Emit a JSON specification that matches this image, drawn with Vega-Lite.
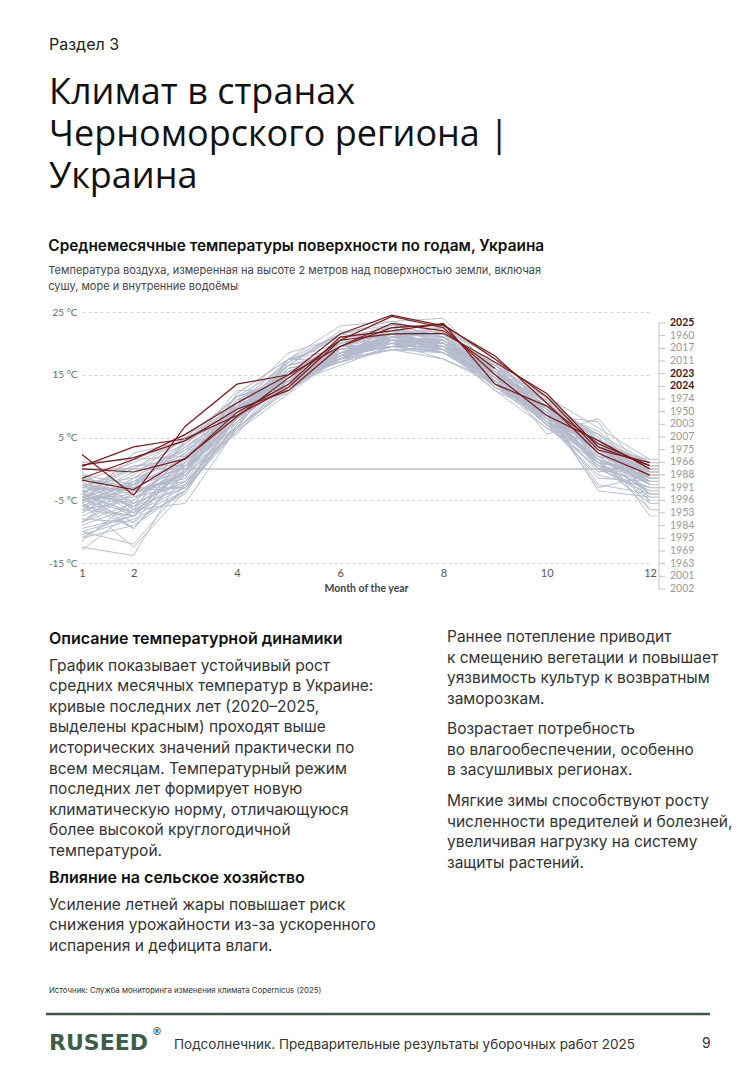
{
  "$schema": "https://vega.github.io/schema/vega-lite/v6.json",
  "background": "white",
  "padding": {"left": 44, "top": 37, "right": 0, "bottom": 0},
  "spacing": 0,
  "config": {"view": {"stroke": null}},
  "datasets": {
    "temps": [
      {"year":1950,"1":-8.5,"2":-3.2,"3":-2.0,"4":9.5,"5":15.0,"6":18.5,"7":20.0,"8":20.5,"9":15.0,"10":8.0,"11":3.5,"12":-2.0},
      {"year":1951,"1":-5.0,"2":-4.0,"3":-0.5,"4":8.0,"5":14.0,"6":19.0,"7":21.0,"8":21.5,"9":16.5,"10":8.5,"11":3.0,"12":-1.0},
      {"year":1952,"1":-3.5,"2":-6.0,"3":-3.0,"4":9.8,"5":13.0,"6":18.5,"7":21.5,"8":21.0,"9":16.8,"10":10.5,"11":1.5,"12":-1.5},
      {"year":1953,"1":-4.5,"2":-9.5,"3":-0.5,"4":8.5,"5":15.5,"6":18.0,"7":21.5,"8":19.0,"9":14.0,"10":8.0,"11":1.0,"12":-4.5},
      {"year":1954,"1":-12.5,"2":-13.8,"3":0.0,"4":7.5,"5":14.0,"6":19.5,"7":22.5,"8":20.5,"9":15.5,"10":10.0,"11":0.5,"12":-1.0},
      {"year":1955,"1":-3.0,"2":-3.5,"3":-1.0,"4":6.0,"5":13.0,"6":18.0,"7":20.5,"8":20.0,"9":15.0,"10":8.5,"11":4.5,"12":0.5},
      {"year":1956,"1":-5.5,"2":-12.5,"3":-3.5,"4":7.0,"5":15.5,"6":17.5,"7":19.0,"8":19.0,"9":14.0,"10":7.0,"11":0.0,"12":-4.0},
      {"year":1957,"1":-6.0,"2":-2.5,"3":-0.5,"4":9.0,"5":13.0,"6":20.0,"7":22.0,"8":19.0,"9":15.0,"10":11.0,"11":5.0,"12":-1.0},
      {"year":1958,"1":-5.0,"2":-3.5,"3":-3.0,"4":6.0,"5":15.5,"6":17.5,"7":20.0,"8":20.0,"9":15.0,"10":9.5,"11":2.5,"12":-1.5},
      {"year":1959,"1":-7.0,"2":-2.0,"3":3.0,"4":8.0,"5":13.5,"6":17.5,"7":21.5,"8":18.5,"9":13.5,"10":8.5,"11":0.5,"12":-3.0},
      {"year":1960,"1":-6.5,"2":-5.0,"3":0.5,"4":9.5,"5":15.5,"6":19.5,"7":20.0,"8":19.0,"9":14.5,"10":11.5,"11":6.5,"12":1.5},
      {"year":1961,"1":-4.5,"2":-2.0,"3":2.5,"4":10.0,"5":12.5,"6":19.0,"7":20.5,"8":20.0,"9":15.5,"10":9.5,"11":3.5,"12":-1.0},
      {"year":1962,"1":-2.5,"2":-4.0,"3":-1.0,"4":10.5,"5":14.0,"6":17.0,"7":19.0,"8":19.5,"9":14.5,"10":10.0,"11":5.5,"12":-1.5},
      {"year":1963,"1":-10.5,"2":-8.0,"3":-4.0,"4":8.5,"5":16.0,"6":18.0,"7":22.5,"8":23.0,"9":16.0,"10":10.0,"11":5.0,"12":-6.5},
      {"year":1964,"1":-11.0,"2":-6.5,"3":-2.5,"4":7.0,"5":15.0,"6":20.5,"7":20.0,"8":19.0,"9":14.5,"10":8.5,"11":4.0,"12":-1.5},
      {"year":1965,"1":-4.0,"2":-5.5,"3":-2.0,"4":6.5,"5":13.5,"6":18.0,"7":19.5,"8":19.5,"9":16.0,"10":7.5,"11":0.0,"12":-3.5},
      {"year":1966,"1":-8.5,"2":-2.0,"3":2.5,"4":10.0,"5":14.0,"6":18.0,"7":21.5,"8":20.0,"9":15.5,"10":10.0,"11":2.0,"12":0.0},
      {"year":1967,"1":-11.5,"2":-5.0,"3":2.0,"4":9.0,"5":15.0,"6":17.0,"7":20.5,"8":20.5,"9":15.5,"10":11.5,"11":2.5,"12":-2.0},
      {"year":1968,"1":-6.0,"2":-4.5,"3":-0.5,"4":11.0,"5":12.5,"6":18.5,"7":20.5,"8":19.5,"9":13.0,"10":8.5,"11":3.5,"12":-2.5},
      {"year":1969,"1":-11.0,"2":-9.0,"3":-3.5,"4":7.5,"5":15.5,"6":18.0,"7":19.5,"8":18.5,"9":14.0,"10":8.5,"11":7.5,"12":-5.5},
      {"year":1970,"1":-7.5,"2":-4.0,"3":1.0,"4":9.0,"5":12.5,"6":19.0,"7":20.5,"8":20.5,"9":14.5,"10":7.5,"11":4.0,"12":-1.5},
      {"year":1971,"1":-3.5,"2":-3.0,"3":-3.0,"4":8.5,"5":16.5,"6":18.5,"7":20.5,"8":20.0,"9":13.5,"10":8.0,"11":3.5,"12":0.0},
      {"year":1972,"1":-9.5,"2":-7.5,"3":2.0,"4":11.0,"5":14.5,"6":19.5,"7":23.0,"8":21.0,"9":14.0,"10":8.5,"11":4.5,"12":-1.0},
      {"year":1973,"1":-6.0,"2":-1.5,"3":1.5,"4":8.5,"5":13.5,"6":18.5,"7":20.0,"8":18.5,"9":14.0,"10":7.0,"11":-1.0,"12":-3.0},
      {"year":1974,"1":-4.0,"2":0.5,"3":1.5,"4":6.5,"5":12.5,"6":18.0,"7":19.5,"8":19.5,"9":16.0,"10":11.5,"11":3.5,"12":1.0},
      {"year":1975,"1":-1.5,"2":-3.0,"3":4.0,"4":10.5,"5":17.0,"6":21.0,"7":21.5,"8":19.5,"9":16.5,"10":9.0,"11":1.0,"12":0.0},
      {"year":1976,"1":-8.0,"2":-8.5,"3":-3.5,"4":9.5,"5":13.0,"6":17.5,"7":19.0,"8":17.5,"9":13.5,"10":6.5,"11":1.0,"12":-3.5},
      {"year":1977,"1":-7.0,"2":-2.5,"3":3.5,"4":9.0,"5":15.0,"6":18.5,"7":20.0,"8":19.5,"9":13.0,"10":7.5,"11":3.0,"12":-4.0},
      {"year":1978,"1":-6.5,"2":-7.5,"3":0.0,"4":7.5,"5":14.0,"6":17.5,"7":19.0,"8":18.5,"9":13.5,"10":9.5,"11":-3.5,"12":-4.5},
      {"year":1979,"1":-9.0,"2":-6.0,"3":1.5,"4":6.5,"5":17.0,"6":21.5,"7":20.5,"8":19.5,"9":15.5,"10":9.5,"11":6.0,"12":-0.5},
      {"year":1980,"1":-8.5,"2":-5.5,"3":-2.0,"4":6.0,"5":12.0,"6":18.0,"7":20.5,"8":18.5,"9":14.5,"10":9.5,"11":2.5,"12":-2.5},
      {"year":1981,"1":-4.5,"2":-5.0,"3":2.0,"4":9.0,"5":13.0,"6":19.5,"7":21.0,"8":20.0,"9":15.5,"10":10.0,"11":3.5,"12":-1.0},
      {"year":1982,"1":-5.0,"2":-7.0,"3":0.5,"4":6.5,"5":13.5,"6":16.5,"7":19.5,"8":19.5,"9":15.5,"10":8.5,"11":1.0,"12":-0.5},
      {"year":1983,"1":-1.0,"2":-5.5,"3":2.5,"4":11.5,"5":16.5,"6":18.0,"7":20.5,"8":19.0,"9":14.0,"10":9.0,"11":2.5,"12":-1.0},
      {"year":1984,"1":-4.0,"2":-7.0,"3":0.5,"4":10.0,"5":17.5,"6":17.0,"7":19.5,"8":18.5,"9":15.0,"10":11.0,"11":1.0,"12":-5.0},
      {"year":1985,"1":-10.0,"2":-12.0,"3":-2.5,"4":8.5,"5":15.0,"6":17.0,"7":20.5,"8":19.5,"9":13.5,"10":8.5,"11":1.5,"12":-2.0},
      {"year":1986,"1":-5.5,"2":-9.5,"3":0.0,"4":11.0,"5":14.5,"6":18.5,"7":19.5,"8":20.5,"9":15.0,"10":7.5,"11":2.0,"12":-4.0},
      {"year":1987,"1":-13.0,"2":-6.5,"3":-5.5,"4":6.5,"5":13.0,"6":19.5,"7":20.0,"8":17.5,"9":14.0,"10":7.5,"11":1.5,"12":-2.5},
      {"year":1988,"1":-4.5,"2":-4.5,"3":-2.5,"4":8.0,"5":15.0,"6":19.5,"7":22.5,"8":20.0,"9":15.0,"10":7.5,"11":-1.5,"12":-2.0},
      {"year":1989,"1":-3.0,"2":0.0,"3":5.0,"4":11.5,"5":14.0,"6":18.5,"7":20.5,"8":20.0,"9":14.5,"10":9.0,"11":1.5,"12":-1.5},
      {"year":1990,"1":-2.0,"2":1.0,"3":4.5,"4":8.5,"5":13.5,"6":18.5,"7":19.5,"8":19.5,"9":13.5,"10":8.0,"11":4.0,"12":0.5},
      {"year":1991,"1":-4.5,"2":-8.5,"3":1.0,"4":9.5,"5":13.0,"6":18.0,"7":21.0,"8":19.0,"9":14.5,"10":9.5,"11":3.5,"12":-2.0},
      {"year":1992,"1":-3.5,"2":-3.0,"3":0.5,"4":8.0,"5":13.5,"6":19.0,"7":20.0,"8":21.0,"9":14.0,"10":7.0,"11":1.5,"12":-2.0},
      {"year":1993,"1":-2.0,"2":-7.0,"3":-3.0,"4":7.0,"5":16.0,"6":18.0,"7":19.5,"8":19.5,"9":13.0,"10":8.5,"11":-3.0,"12":-1.0},
      {"year":1994,"1":-1.5,"2":-6.5,"3":1.0,"4":10.5,"5":14.5,"6":17.5,"7":20.5,"8":20.0,"9":17.5,"10":9.5,"11":0.5,"12":-3.0},
      {"year":1995,"1":1.0,"2":1.5,"3":2.0,"4":9.5,"5":15.5,"6":19.0,"7":20.5,"8":19.5,"9":14.5,"10":9.0,"11":0.5,"12":-5.5},
      {"year":1996,"1":-6.0,"2":-7.5,"3":-3.5,"4":6.5,"5":17.5,"6":19.0,"7":20.5,"8":19.5,"9":12.5,"10":8.5,"11":4.5,"12":-2.5},
      {"year":1997,"1":-5.5,"2":-2.0,"3":0.0,"4":5.5,"5":15.0,"6":19.5,"7":20.0,"8":19.0,"9":12.5,"10":6.5,"11":2.0,"12":-2.5},
      {"year":1998,"1":-2.5,"2":-3.5,"3":-1.5,"4":10.0,"5":13.5,"6":21.0,"7":21.5,"8":19.5,"9":15.0,"10":9.0,"11":-2.5,"12":-4.0},
      {"year":1999,"1":-1.0,"2":-2.5,"3":1.5,"4":10.5,"5":12.0,"6":21.0,"7":22.5,"8":20.0,"9":15.5,"10":9.5,"11":2.0,"12":0.5},
      {"year":2000,"1":-4.5,"2":-0.5,"3":3.0,"4":12.5,"5":12.5,"6":17.5,"7":21.0,"8":20.5,"9":14.5,"10":10.0,"11":5.5,"12":1.0},
      {"year":2001,"1":-1.5,"2":-3.0,"3":4.5,"4":10.5,"5":14.5,"6":17.5,"7":23.0,"8":21.0,"9":15.0,"10":8.5,"11":1.5,"12":-6.5},
      {"year":2002,"1":-4.0,"2":1.5,"3":4.5,"4":8.5,"5":15.0,"6":19.5,"7":23.0,"8":20.0,"9":15.0,"10":7.0,"11":3.5,"12":-7.5},
      {"year":2003,"1":-4.0,"2":-7.5,"3":-1.0,"4":6.5,"5":17.5,"6":17.5,"7":21.0,"8":20.0,"9":13.5,"10":7.5,"11":4.0,"12":1.0},
      {"year":2004,"1":-5.0,"2":-2.5,"3":3.5,"4":9.0,"5":13.5,"6":17.5,"7":20.5,"8":20.5,"9":15.5,"10":10.0,"11":2.5,"12":0.0},
      {"year":2005,"1":-2.5,"2":-6.0,"3":-0.5,"4":9.5,"5":16.0,"6":18.0,"7":21.0,"8":20.5,"9":16.0,"10":9.0,"11":2.5,"12":0.0},
      {"year":2006,"1":-10.0,"2":-7.5,"3":0.0,"4":9.5,"5":14.5,"6":19.5,"7":19.5,"8":21.0,"9":15.5,"10":10.5,"11":3.0,"12":-0.5},
      {"year":2007,"1":-0.5,"2":-6.5,"3":4.5,"4":8.5,"5":17.5,"6":21.5,"7":23.0,"8":22.5,"9":15.5,"10":9.5,"11":0.0,"12":-1.0},
      {"year":2008,"1":-6.5,"2":-1.5,"3":4.0,"4":11.5,"5":14.0,"6":18.5,"7":21.0,"8":22.5,"9":14.0,"10":11.0,"11":3.5,"12":-0.5},
      {"year":2009,"1":-4.5,"2":-2.5,"3":1.0,"4":8.5,"5":14.5,"6":19.5,"7":22.0,"8":19.5,"9":16.5,"10":10.5,"11":4.5,"12":-1.5},
      {"year":2010,"1":-8.5,"2":-4.0,"3":0.5,"4":9.5,"5":16.5,"6":21.5,"7":23.5,"8":24.0,"9":15.5,"10":5.5,"11":8.0,"12":-1.5},
      {"year":2011,"1":-4.0,"2":-7.0,"3":0.0,"4":8.0,"5":15.0,"6":20.5,"7":23.0,"8":21.0,"9":16.0,"10":8.0,"11":-0.5,"12":1.0},
      {"year":2012,"1":-3.5,"2":-9.5,"3":-0.5,"4":12.0,"5":17.5,"6":22.8,"7":23.5,"8":21.5,"9":16.5,"10":11.5,"11":4.5,"12":-4.0},
      {"year":2013,"1":-3.0,"2":0.5,"3":0.5,"4":10.5,"5":18.5,"6":21.0,"7":21.0,"8":21.5,"9":13.0,"10":8.5,"11":5.5,"12":-0.5},
      {"year":2014,"1":-4.5,"2":-1.0,"3":5.0,"4":9.0,"5":16.5,"6":18.5,"7":21.5,"8":21.5,"9":15.5,"10":7.5,"11":1.0,"12":-1.0},
      {"year":2015,"1":-2.5,"2":-1.5,"3":3.5,"4":8.0,"5":15.0,"6":20.0,"7":21.5,"8":22.0,"9":18.0,"10":8.0,"11":4.0,"12":0.5},
      {"year":2016,"1":-5.5,"2":2.5,"3":4.5,"4":11.5,"5":14.5,"6":20.0,"7":22.0,"8":21.0,"9":15.0,"10":7.0,"11":1.5,"12":-2.5},
      {"year":2017,"1":-5.0,"2":-2.5,"3":5.5,"4":9.0,"5":14.0,"6":19.5,"7":21.5,"8":22.5,"9":17.5,"10":8.5,"11":3.5,"12":1.5},
      {"year":2018,"1":-3.0,"2":-3.5,"3":-1.5,"4":12.0,"5":17.5,"6":20.0,"7":21.5,"8":21.5,"9":16.5,"10":10.5,"11":0.0,"12":-2.0},
      {"year":2019,"1":-4.0,"2":0.0,"3":4.0,"4":10.0,"5":16.5,"6":22.0,"7":20.5,"8":20.5,"9":15.5,"10":10.5,"11":4.5,"12":1.0},
      {"year":2020,"1":0.4,"2":3.5,"3":4.8,"4":8.5,"5":13.0,"6":20.5,"7":21.5,"8":21.6,"9":17.0,"10":12.0,"11":3.5,"12":0.5},
      {"year":2021,"1":-1.8,"2":-3.3,"3":1.7,"4":8.3,"5":14.5,"6":20.5,"7":24.3,"8":22.5,"9":15.0,"10":8.5,"11":4.5,"12":0.0},
      {"year":2022,"1":0.0,"2":-0.5,"3":1.6,"4":9.0,"5":13.5,"6":21.0,"7":22.0,"8":23.2,"9":13.5,"10":10.0,"11":4.0,"12":0.5},
      {"year":2023,"1":-1.5,"2":1.5,"3":5.5,"4":10.5,"5":15.0,"6":19.5,"7":22.5,"8":23.0,"9":17.5,"10":11.5,"11":3.0,"12":1.0},
      {"year":2024,"1":2.3,"2":-4.2,"3":6.8,"4":13.5,"5":15.0,"6":21.5,"7":24.5,"8":22.8,"9":18.0,"10":10.5,"11":2.5,"12":-1.0},
      {"year":2025,"1":0.6,"2":1.8,"3":4.5,"4":9.5,"5":12.5,"6":19.5,"7":23.2,"8":22.0,"9":16.0}
    ],
    "labels": [
      {"year":2025},{"year":1960},{"year":2017},{"year":2011},{"year":2023},{"year":2024},
      {"year":1974},{"year":1950},{"year":2003},{"year":2007},{"year":1975},{"year":1966},
      {"year":1988},{"year":1991},{"year":1996},{"year":1953},{"year":1984},{"year":1995},
      {"year":1969},{"year":1963},{"year":2001},{"year":2002}
    ]
  },
  "vconcat": [
    {
      "width": 660, "height": 44,
      "data": {"values": []}, "mark": "point",
      "title": {
        "text": "Раздел 3", "font": "Inter", "fontSize": 16, "fontWeight": 400, "color": "#222", "lineHeight": 16,
        "subtitle": ["Климат в странах", "Черноморского региона |", "Украина"],
        "subtitleFont": "Open Sans", "subtitleFontSize": 36, "subtitleFontWeight": 400, "subtitleColor": "#111",
        "subtitleLineHeight": 42, "subtitlePadding": 23, "anchor": "start", "frame": "group", "offset": 0, "dx": -33
      }
    },
    {
      "width": 568, "height": 251,
      "title": {
        "text": "Среднемесячные температуры поверхности по годам, Украина",
        "font": "Inter", "fontSize": 15.4, "fontWeight": 600, "color": "#111",
        "subtitle": ["Температура воздуха, измеренная на высоте 2 метров над поверхностью земли, включая", "сушу, море и внутренние водоёмы"],
        "subtitleFont": "Inter", "subtitleFontSize": 11, "subtitleColor": "#444", "subtitleLineHeight": 16.5, "subtitlePadding": 10,
        "anchor": "start", "frame": "bounds", "offset": 15
      },
      "resolve": {"scale": {"x": "independent", "y": "independent"}},
      "layer": [
        {
          "layer": [
            {
              "data": {"values": [{}]},
              "mark": {"type": "rule", "color": "#bdbdbd", "strokeWidth": 1.5},
              "encoding": {"y": {"datum": 0, "type": "quantitative"}}
            },
            {
              "data": {"name": "temps"},
              "transform": [
                {"filter": "datum.year < 2020"},
                {"fold": ["1","2","3","4","5","6","7","8","9","10","11","12"], "as": ["month", "temp"]}
              ],
              "mark": {"type": "line", "stroke": "#b3bacb", "strokeWidth": 1, "opacity": 0.95},
              "encoding": {
                "x": {"field": "month", "type": "ordinal",
                  "scale": {"type": "point", "domain": ["1","2","3","4","5","6","7","8","9","10","11","12"], "padding": 0},
                  "axis": {"values": ["1","2","4","6","8","10","12"], "labelAngle": 0, "labelFont": "Lato", "labelFontSize": 11, "labelColor": "#555",
                    "ticks": false, "domain": false, "grid": false, "labelPadding": 4, "labelOverlap": false,
                    "title": "Month of the year", "titleFont": "Lato", "titleFontSize": 10.5, "titleFontWeight": "bold", "titleColor": "#444", "titlePadding": 5}},
                "y": {"field": "temp", "type": "quantitative",
                  "scale": {"domain": [-15, 25], "nice": false, "zero": false},
                  "axis": {"values": [-15,-10,-5,0,5,10,15,20,25], "labelExpr": "datum.value + ' °C'", "labelFont": "Lato", "labelFontSize": 10,
                    "labelColor": "#6b6b6b", "ticks": false, "domain": false, "grid": true, "gridDash": [3,3], "gridColor": "#d4d4d4", "title": null,
                    "labelPadding": 5, "labelOverlap": false}},
                "detail": {"field": "year", "type": "nominal"},
                "order": {"value": null}
              }
            },
            {
              "data": {"name": "temps"},
              "transform": [
                {"filter": "datum.year >= 2020"},
                {"fold": ["1","2","3","4","5","6","7","8","9","10","11","12"], "as": ["month", "temp"]}
              ],
              "mark": {"type": "line", "stroke": "#7a1c1c", "strokeWidth": 1.2},
              "encoding": {
                "x": {"field": "month", "type": "ordinal"},
                "y": {"field": "temp", "type": "quantitative"},
                "detail": {"field": "year", "type": "nominal"},
                "order": {"value": null}
              }
            }
          ]
        },
        {
          "data": {"name": "temps"},
          "transform": [
            {"fold": ["12"], "as": ["month", "temp"]},
            {"filter": "isValid(datum.temp)"}
          ],
          "mark": {"type": "rule", "color": "#c8c8c8", "strokeWidth": 0.8},
          "encoding": {
            "x": {"datum": 0, "type": "quantitative", "scale": {"domain": [0, 20], "range": [568, 588], "nice": false, "zero": false}, "axis": null},
            "x2": {"datum": 9},
            "y": {"field": "temp", "type": "quantitative", "scale": {"domain": [-15, 25], "nice": false, "zero": false}, "axis": null}
          }
        },
        {
          "layer": [
            {
              "data": {"values": [{}]},
              "mark": {"type": "rule", "color": "#c4c4c4", "strokeWidth": 1},
              "encoding": {
                "x": {"datum": 9, "type": "quantitative", "scale": {"domain": [0, 20], "range": [568, 588], "nice": false, "zero": false}, "axis": null},
                "y": {"datum": 2025, "type": "ordinal",
                  "scale": {"type": "point", "padding": 0, "range": [11, 277],
                    "domain": [2025,1960,2017,2011,2023,2024,1974,1950,2003,2007,1975,1966,1988,1991,1996,1953,1984,1995,1969,1963,2001,2002]},
                  "axis": null},
                "y2": {"datum": 2002}
              }
            },
            {
              "data": {"name": "labels"},
              "mark": {"type": "rule", "color": "#c4c4c4", "strokeWidth": 1},
              "encoding": {
                "x": {"datum": 9, "type": "quantitative"},
                "x2": {"datum": 15},
                "y": {"field": "year", "type": "ordinal"}
              }
            },
            {
              "data": {"name": "labels"},
              "transform": [{"filter": "datum.year < 2023"}],
              "mark": {"type": "text", "align": "left", "baseline": "middle", "font": "Lato", "fontSize": 10.5, "color": "#9a9a9a"},
              "encoding": {
                "x": {"datum": 20, "type": "quantitative"},
                "y": {"field": "year", "type": "ordinal"},
                "text": {"field": "year", "type": "nominal"}
              }
            },
            {
              "data": {"name": "labels"},
              "transform": [{"filter": "datum.year >= 2023"}],
              "mark": {"type": "text", "align": "left", "baseline": "middle", "font": "Lato", "fontSize": 10.5, "fontWeight": "bold", "color": "#4a1616"},
              "encoding": {
                "x": {"datum": 20, "type": "quantitative"},
                "y": {"field": "year", "type": "ordinal"},
                "text": {"field": "year", "type": "nominal"}
              }
            }
          ]
        }
      ]
    },
    {"width": 10, "height": 35, "data": {"values": []}, "mark": "point"},
    {
      "hconcat": [
        {
          "vconcat": [
            {
              "width": 340, "height": 0, "data": {"values": []}, "mark": "point",
              "title": {
                "text": "Описание температурной динамики", "font": "Inter", "fontSize": 16, "fontWeight": 600, "color": "#111", "lineHeight": 16,
                "subtitle": ["График показывает устойчивый рост", "средних месячных температур в Украине:", "кривые последних лет (2020–2025,", "выделены красным) проходят выше", "исторических значений практически по", "всем месяцам. Температурный режим", "последних лет формирует новую", "климатическую норму, отличающуюся", "более высокой круглогодичной", "температурой."],
                "subtitleFont": "Inter", "subtitleFontSize": 15.5, "subtitleColor": "#333", "subtitleLineHeight": 20.6, "subtitlePadding": 11.5,
                "orient": "bottom", "anchor": "start", "frame": "group", "offset": -21, "dx": -33
              }
            },
            {
              "width": 340, "height": 0, "data": {"values": []}, "mark": "point",
              "title": {
                "text": "Влияние на сельское хозяйство", "font": "Inter", "fontSize": 16, "fontWeight": 600, "color": "#111", "lineHeight": 16,
                "subtitle": ["Усиление летней жары повышает риск", "снижения урожайности из-за ускоренного", "испарения и дефицита влаги."],
                "subtitleFont": "Inter", "subtitleFontSize": 15.5, "subtitleColor": "#333", "subtitleLineHeight": 20.6, "subtitlePadding": 11.5,
                "orient": "bottom", "anchor": "start", "frame": "group", "offset": -10, "dx": -33
              }
            }
          ],
          "spacing": 0
        },
        {
          "vconcat": [
            {
              "width": 300, "height": 0, "data": {"values": []}, "mark": "point",
              "title": {
                "text": ["Раннее потепление приводит", "к смещению вегетации и повышает", "уязвимость культур к возвратным", "заморозкам."],
                "font": "Inter", "fontSize": 15.5, "fontWeight": 400, "color": "#333", "lineHeight": 20.6,
                "orient": "bottom", "anchor": "start", "frame": "group", "offset": -22, "dx": -33
              }
            },
            {
              "width": 300, "height": 0, "data": {"values": []}, "mark": "point",
              "title": {
                "text": ["Возрастает потребность", "во влагообеспечении, особенно", "в засушливых регионах."],
                "font": "Inter", "fontSize": 15.5, "fontWeight": 400, "color": "#333", "lineHeight": 20.6,
                "orient": "bottom", "anchor": "start", "frame": "group", "offset": -6, "dx": -33
              }
            },
            {
              "width": 300, "height": 0, "data": {"values": []}, "mark": "point",
              "title": {
                "text": ["Мягкие зимы способствуют росту", "численности вредителей и болезней,", "увеличивая нагрузку на систему", "защиты растений."],
                "font": "Inter", "fontSize": 15.5, "fontWeight": 400, "color": "#333", "lineHeight": 20.6,
                "orient": "bottom", "anchor": "start", "frame": "group", "offset": -5, "dx": -33
              }
            }
          ],
          "spacing": 0
        }
      ],
      "spacing": 25
    },
    {"width": 10, "height": 32, "data": {"values": []}, "mark": "point"},
    {
      "width": 628, "height": 19,
      "data": {"values": [{}]},
      "mark": {"type": "rule", "color": "#3d5a47", "strokeWidth": 2.5},
      "encoding": {
        "x": {"datum": 0, "type": "quantitative", "scale": {"domain": [0, 1], "range": [-36, 628], "nice": false}, "axis": null},
        "x2": {"datum": 1},
        "y": {"datum": 0, "type": "quantitative", "scale": {"domain": [0, 1], "nice": false}, "axis": null}
      },
      "title": {
        "text": "Источник: Служба мониторинга изменения климата Copernicus (2025)",
        "font": "Inter", "fontSize": 7.8, "fontWeight": 400, "color": "#333",
        "anchor": "start", "frame": "group", "offset": 0, "dx": -33
      }
    },
    {"width": 10, "height": 11, "data": {"values": []}, "mark": "point"},
    {
      "bounds": "flush",
      "spacing": 0,
      "hconcat": [
        {
          "width": 105, "height": 0, "data": {"values": []}, "mark": "point",
          "title": {"text": "RUSEED", "font": "DejaVu Sans", "fontSize": 22, "fontWeight": "bold", "color": "#3d5e48", "anchor": "start", "frame": "group", "offset": 0, "dx": -33}
        },
        {
          "width": 20, "height": 0, "data": {"values": []}, "mark": "point",
          "title": {"text": "®", "font": "DejaVu Sans", "fontSize": 10, "fontWeight": "bold", "color": "#3d5e48", "anchor": "start", "frame": "group", "offset": 18, "dx": -35}
        },
        {
          "width": 528, "height": 0, "data": {"values": []}, "mark": "point",
          "title": {"text": "Подсолнечник. Предварительные результаты уборочных работ 2025", "font": "Inter", "fontSize": 13.5, "fontWeight": 400, "color": "#333", "anchor": "start", "frame": "group", "offset": 4, "dx": -33}
        },
        {
          "width": 12, "height": 0, "data": {"values": []}, "mark": "point",
          "title": {"text": "9", "font": "Inter", "fontSize": 14, "fontWeight": 400, "color": "#333", "anchor": "start", "frame": "group", "offset": 4, "dx": -33}
        }
      ]
    }
  ]
}
